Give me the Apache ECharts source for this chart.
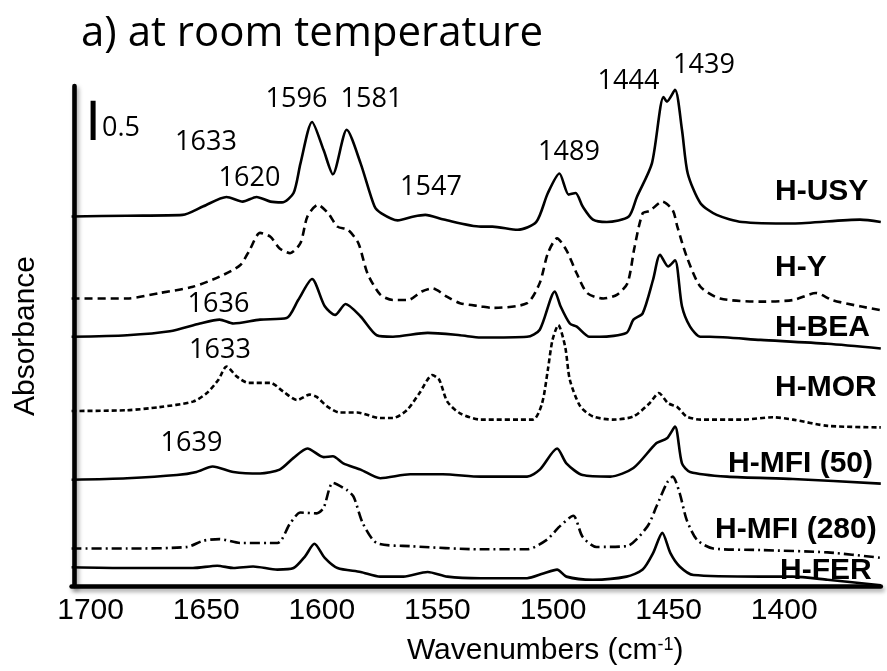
<!DOCTYPE html>
<html>
<head>
<meta charset="utf-8">
<title>IR spectra of adsorbed pyridine</title>
<script src="https://cdn.jsdelivr.net/npm/echarts/dist/echarts.min.js"></script>
<style>
  html, body { margin: 0; padding: 0; background: #fff; }
  #chart { width: 887px; height: 671px; }
</style>
</head>
<body>
<div id="chart"></div>
<script>
// ---- data -------------------------------------------------------------
// Offset-stacked absorbance spectra, pairs of [wavenumber (cm-1), absorbance]
const hUSY = [[1700,4.73],[1676,4.74],[1652,4.75],[1643,4.86],[1633,4.98],[1626,4.92],[1620,4.98],[1614,4.92],[1609,4.91],[1604,5.03],[1601,5.41],[1596,5.94],[1591,5.58],[1587,5.27],[1581,5.84],[1575,5.41],[1569,4.86],[1566,4.77],[1559,4.68],[1552,4.73],[1547,4.75],[1539,4.69],[1523,4.60],[1518,4.60],[1507,4.56],[1499,4.66],[1494,5.03],[1489,5.28],[1485,5.01],[1482,5.03],[1479,4.86],[1474.5,4.69],[1468.5,4.66],[1459,4.73],[1455.5,4.98],[1449,5.41],[1444,6.26],[1442.5,6.20],[1439,6.35],[1436,5.84],[1433.5,5.28],[1428,4.90],[1421,4.75],[1410,4.66],[1388,4.64],[1359,4.69],[1350,4.66]];
const hY = [[1700,3.68],[1676,3.68],[1662,3.75],[1647.5,3.83],[1636,3.96],[1627,4.11],[1623,4.30],[1618.5,4.52],[1614,4.47],[1610,4.32],[1605.5,4.26],[1601,4.39],[1598,4.73],[1593.5,4.88],[1589,4.77],[1585,4.60],[1580.5,4.56],[1576,4.39],[1572,4.00],[1566.5,3.73],[1561,3.66],[1554.5,3.66],[1548.5,3.77],[1544,3.81],[1537.5,3.70],[1532,3.62],[1523,3.58],[1518,3.56],[1503,3.62],[1497.5,3.88],[1494,4.26],[1490,4.45],[1486,4.30],[1481.5,4.00],[1477,3.75],[1470,3.68],[1464,3.73],[1459.5,3.88],[1456.5,4.34],[1453,4.77],[1450,4.80],[1444.5,4.92],[1440,4.81],[1438,4.60],[1434,4.22],[1428,3.83],[1419.5,3.68],[1402,3.64],[1388,3.66],[1378,3.75],[1371,3.66],[1359,3.58],[1350,3.53]];
const hBEA = [[1700,3.19],[1676,3.21],[1657.5,3.26],[1644.5,3.36],[1636,3.41],[1630,3.36],[1618.5,3.41],[1607,3.43],[1602,3.66],[1596,3.93],[1590.5,3.58],[1586,3.47],[1581.5,3.61],[1575,3.45],[1568,3.21],[1561,3.19],[1546,3.24],[1532,3.21],[1523,3.18],[1503,3.19],[1497.5,3.28],[1491,3.77],[1488.5,3.58],[1484.5,3.36],[1481.5,3.32],[1476,3.19],[1471.5,3.19],[1460,3.24],[1457,3.41],[1453,3.49],[1448.5,3.92],[1445.5,4.24],[1442,4.09],[1439,4.17],[1436,3.58],[1432.5,3.32],[1428,3.19],[1424,3.19],[1402,3.15],[1373,3.10],[1350,3.04]];
const hMOR = [[1700,2.24],[1676,2.25],[1662,2.29],[1647.5,2.36],[1641.5,2.47],[1636.5,2.64],[1633,2.81],[1628.5,2.68],[1623.5,2.60],[1614,2.60],[1608.5,2.49],[1602.5,2.38],[1597,2.45],[1594,2.42],[1589.5,2.30],[1584,2.22],[1576.5,2.22],[1566.5,2.15],[1561,2.15],[1555,2.25],[1549.5,2.47],[1544,2.70],[1541,2.64],[1537.5,2.36],[1532,2.21],[1523,2.13],[1500.5,2.13],[1496.5,2.34],[1494,2.77],[1492,3.15],[1489.5,3.34],[1486.5,3.06],[1484.5,2.64],[1480,2.30],[1474.5,2.17],[1466,2.13],[1457,2.17],[1450,2.34],[1446,2.47],[1442,2.34],[1438,2.29],[1434,2.17],[1428,2.13],[1409.5,2.13],[1396.5,2.16],[1388,2.13],[1373,2.05],[1350,2.03]];
const hMFI50 = [[1700,1.36],[1676,1.38],[1654.5,1.42],[1646,1.46],[1639,1.53],[1630,1.46],[1618.5,1.44],[1610,1.49],[1604,1.64],[1598,1.76],[1591,1.65],[1587,1.66],[1582.5,1.57],[1575,1.49],[1566.5,1.38],[1553.5,1.43],[1539.5,1.43],[1523,1.40],[1503,1.40],[1497.5,1.49],[1490,1.76],[1486,1.57],[1479,1.42],[1467,1.40],[1457,1.51],[1447,1.83],[1442.5,1.89],[1439,2.04],[1436,1.57],[1432.5,1.46],[1416.5,1.40],[1388,1.37],[1350,1.31]];
const hMFI280 = [[1700,0.48],[1676,0.48],[1650,0.50],[1643,0.58],[1636,0.60],[1627,0.55],[1611,0.55],[1605.5,0.80],[1601,0.94],[1594,0.93],[1591,1.00],[1587,1.32],[1581,1.23],[1578,1.14],[1574,0.80],[1568,0.55],[1553.5,0.51],[1523,0.47],[1503,0.47],[1494.5,0.59],[1489,0.76],[1483,0.90],[1479,0.63],[1473,0.50],[1460,0.51],[1451,0.76],[1447,1.02],[1442.5,1.32],[1440,1.40],[1437,1.19],[1434,0.85],[1429.5,0.59],[1422.5,0.48],[1402,0.46],[1373,0.43],[1350,0.36]];
const hFER = [[1700,0.24],[1676,0.23],[1647.5,0.23],[1637,0.26],[1630,0.23],[1621.5,0.25],[1611,0.21],[1604,0.23],[1599,0.38],[1595,0.54],[1590.5,0.36],[1585,0.23],[1575,0.18],[1566.5,0.12],[1556.5,0.12],[1546,0.18],[1537.5,0.12],[1523,0.10],[1503,0.10],[1496,0.16],[1490,0.21],[1486,0.12],[1474.5,0.08],[1460,0.12],[1453,0.21],[1448.5,0.42],[1444.5,0.68],[1441,0.42],[1437,0.25],[1431,0.14],[1402,0.12],[1388,0.12],[1373,0.08],[1350,0.01]];

const sampleNames = ['H-USY', 'H-Y', 'H-BEA', 'H-MOR', 'H-MFI (50)', 'H-MFI (280)', 'H-FER'];
const spectra = [hUSY, hY, hBEA, hMOR, hMFI50, hMFI280, hFER];

// Band positions written above the peaks (cm-1)
const peakLabels = ['1633', '1620', '1596', '1581', '1547', '1489', '1444', '1439', '1636', '1633', '1639'];

// Wavenumber range and tick step of the x axis
const wnMin = 1350, wnMax = 1700, wnStep = 50;

// Absorbance scale bar
const scaleBarLength = 0.5;
const scaleBarText = '0.5';

const titleText = 'a) at room temperature';
const xTitle = 'Wavenumbers (cm';
const xTitleSup = '-1';
const yTitle = 'Absorbance';

// ---- layout / style ---------------------------------------------------
const grid = { left: 71.6, right: 6.2, top: 86, bottom: 85 };
const yMax = 6.4;

// line styles per sample: solid, dashed, dotted-dash...
const lineTypes = ['solid', [8, 5], 'solid', [5, 3], 'solid', [10, 4, 2, 4], 'solid'];

// pixel positions (centre) of the band annotations
const peakLabelPos = [[206, 142.5], [249.5, 178], [296.5, 99], [371.5, 99], [431, 187], [569, 152],
                      [628.5, 81], [704, 65], [218.5, 304], [220, 350], [191.5, 443]];
// pixel positions (left edge, centre) of the sample names
const nameLabelPos = [[775, 191.5], [775, 267.5], [775, 327.5], [775, 387.5], [728, 463.5], [715, 530], [780, 570.5]];
// scale bar anchor in data space (bottom end)
const scaleBarAnchor = [1690.7, 5.71];

const axisLineStyle = {
  color: '#000', width: 4.6,
  shadowColor: 'rgba(0,0,0,0.35)', shadowBlur: 4, shadowOffsetX: 2, shadowOffsetY: 3
};

const series = spectra.map((d, i) => ({
  name: sampleNames[i],
  type: 'line',
  data: d,
  smooth: 0.25,
  showSymbol: false,
  symbol: 'none',
  silent: true,
  z: 3,
  lineStyle: { color: '#000', width: 2.6, type: lineTypes[i] }
}));

// vertical absorbance scale bar
series.push({
  name: 'scale',
  type: 'line',
  data: [scaleBarAnchor, [scaleBarAnchor[0], scaleBarAnchor[1] + scaleBarLength]],
  showSymbol: false,
  symbol: 'none',
  silent: true,
  lineStyle: { color: '#000', width: 5, cap: 'butt' }
});

const graphics = [];
graphics.push({
  type: 'text', x: 81, y: 34,
  style: { text: titleText, fontFamily: '"Open Sans"', fontSize: 42, fill: '#000',
           align: 'left', verticalAlign: 'middle' }
});
peakLabels.forEach((t, i) => {
  graphics.push({
    type: 'text', x: peakLabelPos[i][0], y: peakLabelPos[i][1],
    style: { text: t, fontFamily: '"Open Sans"', fontSize: 27, fill: '#000',
             align: 'center', verticalAlign: 'middle' }
  });
});
graphics.push({
  type: 'text', x: 102, y: 128,
  style: { text: scaleBarText, fontFamily: '"Open Sans"', fontSize: 27, fill: '#000',
           align: 'left', verticalAlign: 'middle' }
});
sampleNames.forEach((t, i) => {
  graphics.push({
    type: 'text', x: nameLabelPos[i][0], y: nameLabelPos[i][1], z: 10,
    style: { text: t, fontFamily: '"Liberation Sans", Arial, sans-serif', fontWeight: 'bold',
             fontSize: 30, fill: '#000', align: 'left', verticalAlign: 'middle' }
  });
});

const chart = echarts.init(document.getElementById('chart'), null, { renderer: 'canvas' });
chart.setOption({
  animation: false,
  backgroundColor: '#fff',
  grid: Object.assign({ containLabel: false, outerBoundsMode: 'none' }, grid),
  xAxis: {
    type: 'value',
    inverse: true,
    min: wnMin, max: wnMax, interval: wnStep,
    axisLine: { show: true, onZero: false, lineStyle: axisLineStyle },
    axisTick: { show: false },
    splitLine: { show: false },
    axisLabel: {
      color: '#000', fontFamily: '"Liberation Sans", Arial, sans-serif', fontSize: 30,
      margin: 10, padding: [0, 0, 0, 38],
      formatter: v => (v === wnMin ? '' : String(v))
    },
    name: '{a|' + xTitle + '}{s|' + xTitleSup + '}{a|)}',
    nameLocation: 'middle',
    nameGap: 50,
    nameTextStyle: {
      padding: [0, 0, 0, 138],
      rich: {
        a: { color: '#000', fontFamily: '"Liberation Sans", Arial, sans-serif', fontSize: 30 },
        s: { color: '#000', fontFamily: '"Liberation Sans", Arial, sans-serif', fontSize: 18,
             verticalAlign: 'top' }
      }
    }
  },
  yAxis: {
    type: 'value',
    min: 0, max: yMax,
    offset: -2.4,
    axisLine: { show: true, onZero: false, lineStyle: axisLineStyle },
    axisTick: { show: false },
    axisLabel: { show: false },
    splitLine: { show: false },
    name: yTitle,
    nameLocation: 'middle',
    nameGap: 33,
    nameTextStyle: { color: '#000', fontFamily: '"Liberation Sans", Arial, sans-serif', fontSize: 30 }
  },
  series: series,
  graphic: graphics
});
</script>
</body>
</html>
